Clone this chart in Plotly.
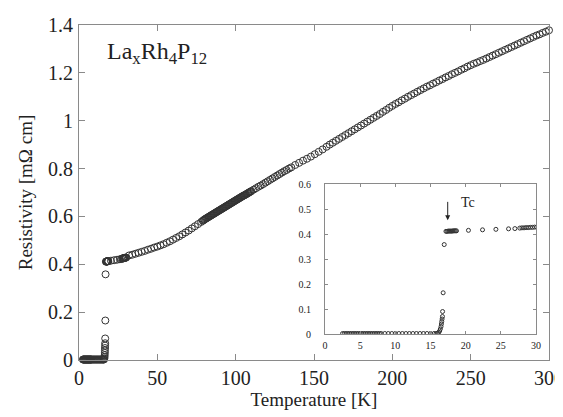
import plotly.graph_objects as go

# low temperature part (shared by main plot and inset)
T_LOW = [2.5, 2.75, 3.0, 3.25, 3.5, 3.75, 4.0, 4.25, 4.5, 4.75, 5.0, 5.25, 5.5,
         5.75, 6.0, 6.25, 6.5, 6.75, 7.0, 7.25, 7.5, 7.75, 8.0, 8.5, 9.0, 9.5,
         10.0, 10.5, 11.0, 11.5, 12.0, 12.5, 13.0, 13.5, 14.0, 14.5, 15.0, 15.5,
         15.8, 16.0, 16.15, 16.3, 16.4, 16.5, 16.55, 16.6, 16.65, 16.7, 16.72,
         16.8, 16.95, 17.2, 17.35, 17.5, 17.65, 17.8, 17.95, 18.1, 18.25, 18.4,
         18.55, 18.7, 20.4, 22.4, 24.3, 26.1, 27.0, 27.7, 28.0, 28.3, 28.6, 28.9,
         29.2, 29.5, 29.8, 30.1]
R_LOW = [0.002, 0.002, 0.002, 0.002, 0.002, 0.002, 0.002, 0.002, 0.002, 0.002,
         0.002, 0.002, 0.002, 0.002, 0.002, 0.002, 0.002, 0.002, 0.002, 0.002,
         0.002, 0.002, 0.002, 0.002, 0.002, 0.002, 0.002, 0.002, 0.002, 0.002,
         0.002, 0.002, 0.002, 0.002, 0.002, 0.002, 0.002, 0.002, 0.002, 0.003,
         0.006, 0.012, 0.020, 0.030, 0.040, 0.050, 0.060, 0.070, 0.090, 0.165,
         0.358, 0.411, 0.411, 0.412, 0.412, 0.412, 0.412, 0.412, 0.413, 0.413,
         0.413, 0.413, 0.415, 0.417, 0.419, 0.421, 0.422, 0.424, 0.425, 0.425,
         0.426, 0.426, 0.427, 0.427, 0.428, 0.428]

# higher temperature part (main plot only)
T_HIGH = [32, 34, 36, 38, 40, 42, 44, 46, 48, 50, 52, 54, 56, 58, 60, 62, 64,
          66, 68, 70, 72, 74, 76, 78,
          79, 79.5, 80, 80.5, 81, 81.5, 82, 82.5, 83, 83.5, 84, 84.5, 85, 85.5,
          86, 86.5, 87, 87.5, 88, 88.5, 89, 89.5, 90, 90.5, 91, 91.5, 92, 92.5,
          93, 93.5, 94, 94.5, 95, 95.5, 96, 96.5, 97, 97.5, 98, 98.5, 99, 99.5,
          100, 100.5, 101, 101.5, 102, 102.5, 103, 103.5, 104, 104.5, 105, 105.5,
          106, 106.5, 107, 107.5, 108, 108.5, 109, 109.5, 110,
          111.5, 113, 114.5, 116, 117.5, 119, 120.5, 122, 123.5, 125, 126.5, 128,
          129.5, 131, 132.5, 134, 135.5,
          138, 140.5, 143, 145.5, 148, 150.5, 153, 155.5, 158, 160,
          162, 164, 166, 168, 170, 172, 174, 176, 178, 180, 182, 184, 186, 188,
          190, 192, 194, 196, 198, 200, 202, 204, 206, 208, 210, 212, 214, 216,
          218, 220, 222, 224, 226, 228, 230, 232, 234, 236, 238, 240, 242, 244,
          246, 248, 250, 252, 254, 256, 258, 260, 262, 264, 266, 268, 270, 272,
          274, 276, 278, 280, 282, 284, 286, 288, 290, 292, 294, 296, 298, 300]
R_HIGH = [0.437, 0.440, 0.444, 0.448, 0.452, 0.456, 0.461, 0.465, 0.470, 0.474,
          0.479, 0.484, 0.490, 0.496, 0.503, 0.510, 0.517, 0.525, 0.533, 0.541,
          0.550, 0.559, 0.568, 0.577,
          0.582, 0.584, 0.587, 0.589, 0.591, 0.593, 0.595, 0.597, 0.599, 0.601,
          0.603, 0.605, 0.607, 0.609, 0.611, 0.613, 0.615, 0.617, 0.619, 0.621,
          0.623, 0.625, 0.627, 0.629, 0.631, 0.633, 0.635, 0.637, 0.639, 0.641,
          0.643, 0.645, 0.647, 0.649, 0.651, 0.653, 0.655, 0.657, 0.659, 0.661,
          0.663, 0.665, 0.667, 0.669, 0.671, 0.673, 0.675, 0.677, 0.679, 0.681,
          0.683, 0.685, 0.687, 0.688, 0.690, 0.692, 0.694, 0.696, 0.698, 0.700,
          0.702, 0.704, 0.706,
          0.712, 0.718, 0.724, 0.729, 0.735, 0.741, 0.747, 0.753, 0.759, 0.765,
          0.771, 0.777, 0.783, 0.789, 0.794, 0.800, 0.805,
          0.815, 0.824, 0.833, 0.841, 0.850, 0.860, 0.870, 0.880, 0.891, 0.900,
          0.908, 0.916, 0.924, 0.932, 0.940, 0.948, 0.956, 0.964, 0.972, 0.980,
          0.988, 0.996, 1.004, 1.012, 1.020, 1.028, 1.037, 1.045, 1.054, 1.062,
          1.070, 1.077, 1.085, 1.092, 1.100, 1.107, 1.114, 1.121, 1.128, 1.135,
          1.142, 1.148, 1.155, 1.161, 1.168, 1.174, 1.181, 1.187, 1.194, 1.200,
          1.206, 1.213, 1.219, 1.226, 1.232, 1.238, 1.243, 1.249, 1.254, 1.260,
          1.266, 1.272, 1.278, 1.284, 1.290, 1.296, 1.302, 1.308, 1.314, 1.320,
          1.326, 1.332, 1.338, 1.344, 1.350, 1.356, 1.361, 1.367, 1.372, 1.378]

FONT = "Liberation Serif"
TXT = "#222222"
LINE = "#8a8a8a"
MARK = "#333333"

fig = go.Figure()
fig.add_trace(go.Scatter(
    x=T_LOW + T_HIGH, y=R_LOW + R_HIGH, mode="markers",
    marker=dict(symbol="circle-open", size=7, color=MARK, line=dict(width=1)),
    xaxis="x", yaxis="y", cliponaxis=False,
))
fig.add_trace(go.Scatter(
    x=T_LOW, y=R_LOW, mode="markers",
    marker=dict(symbol="circle-open", size=4, color=MARK, line=dict(width=1)),
    xaxis="x2", yaxis="y2",
))

axis_common = dict(showline=True, linecolor=LINE, linewidth=1, mirror="ticks",
                   ticks="inside", tickcolor=LINE, showgrid=False, zeroline=False,
                   automargin=False, ticklabeloverflow="allow")

# page body has an 8px margin, so the figure is 8px smaller than the window
fig.update_layout(
    width=555, height=409,
    margin=dict(l=71, r=14, t=17, b=57),
    paper_bgcolor="white", plot_bgcolor="white",
    showlegend=False,
    font=dict(family=FONT, color=TXT),
    xaxis=dict(range=[0, 300], dtick=50, ticklen=6, tickfont=dict(size=20),
               ticklabelstandoff=0,
               title=dict(text="Temperature [K]", font=dict(size=19), standoff=4),
               **axis_common),
    yaxis=dict(range=[0, 1.4], dtick=0.2, ticklen=6, tickfont=dict(size=20),
               ticklabelstandoff=1,
               title=dict(text="Resistivity [mΩ cm]", font=dict(size=19), standoff=10),
               **axis_common),
    xaxis2=dict(domain=[0.5234, 0.9723], anchor="y2", range=[0, 30], dtick=5,
                ticklen=3, tickfont=dict(size=10), ticklabelstandoff=2,
                **axis_common),
    yaxis2=dict(domain=[0.0776, 0.525], anchor="x2", range=[0, 0.6], dtick=0.1,
                ticklen=3, tickfont=dict(size=10), ticklabelstandoff=11,
                **axis_common),
)

fig.add_annotation(
    xref="paper", yref="paper", x=0.056, y=0.967, xanchor="left", yanchor="top",
    text="La<sub>x</sub>Rh<sub>4</sub>P<sub>12</sub>", showarrow=False,
    font=dict(size=24, family=FONT, color=TXT),
)
fig.add_annotation(
    xref="x2", yref="y2", x=17.45, y=0.455, axref="x2", ayref="y2",
    ax=17.45, ay=0.535, text="", showarrow=True, arrowhead=2, arrowsize=1,
    arrowwidth=1, arrowcolor=TXT,
)
fig.add_annotation(
    xref="x2", yref="y2", x=19.0, y=0.525, xanchor="left", yanchor="middle",
    text="Tc", showarrow=False, font=dict(size=14, family=FONT, color=TXT),
)

fig.write_html("out.html")
